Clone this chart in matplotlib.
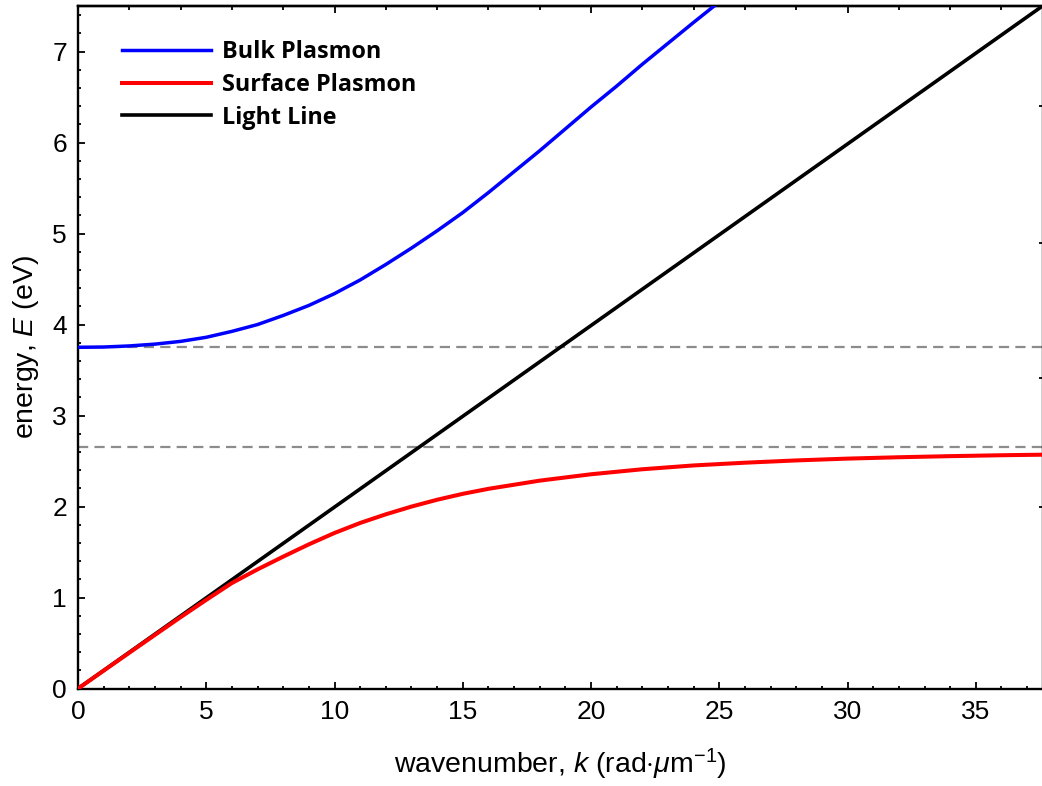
import matplotlib
matplotlib.use("Agg")
import matplotlib.pyplot as plt
from matplotlib.ticker import MultipleLocator, FixedLocator

# ---- data ----
bulk_k = [0, 1, 2, 3, 4, 5, 6, 7, 8, 9, 10, 11, 12, 13, 14, 15, 16, 17, 18, 19, 20, 21, 22, 23, 24, 24.8]
bulk_E = [3.75, 3.753, 3.765, 3.785, 3.815, 3.86, 3.925, 4.00, 4.10, 4.21, 4.34, 4.49, 4.66, 4.84,
          5.03, 5.23, 5.45, 5.68, 5.91, 6.15, 6.39, 6.62, 6.86, 7.09, 7.32, 7.50]

surf_k = [0, 1, 2, 3, 4, 5, 6, 7, 8, 9, 10, 11, 12, 13, 14, 15, 16, 17, 18, 19, 20, 22, 24, 26, 28,
          30, 32, 34, 36, 37.6]
surf_E = [0, 0.197, 0.394, 0.59, 0.785, 0.975, 1.16, 1.31, 1.45, 1.585, 1.71, 1.82, 1.915, 2.00,
          2.075, 2.14, 2.195, 2.24, 2.285, 2.32, 2.355, 2.41, 2.452, 2.482, 2.507, 2.527, 2.542, 2.554,
          2.564, 2.57]

light_k = [0, 37.6]
light_E = [0, 7.5]

plasma_levels = [3.75, 2.65]   # bulk plasma energy and surface plasmon limit

series_labels = ["Bulk Plasmon", "Surface Plasmon", "Light Line"]

right_ticks = [6.4, 4.9, 3.41, 2.0]

# ---- style ----
plt.rcParams['font.family'] = ['Liberation Sans', 'DejaVu Sans']
plt.rcParams['mathtext.fontset'] = 'custom'
plt.rcParams['mathtext.rm'] = 'Liberation Sans'
plt.rcParams['mathtext.it'] = 'Liberation Sans:italic'
plt.rcParams['mathtext.bf'] = 'Liberation Sans:bold'

fig = plt.figure(figsize=(10.42, 7.86), dpi=100)
W, H = 1042, 786
x0, x1, y0, y1 = 78, 1042.5, 688.6, 6
ax = fig.add_axes([x0 / W, 1 - y0 / H, (x1 - x0) / W, (y0 - y1) / H])

for lev in plasma_levels:
    ax.axhline(lev, color='#8c8c8c', lw=1.6, dashes=(4.6, 2.8), zorder=1)

ax.plot(bulk_k, bulk_E, color='#0000ff', lw=2.5, label=series_labels[0], zorder=3)
ax.plot(surf_k, surf_E, color='#ff0000', lw=2.9, label=series_labels[1], zorder=3)
ax.plot(light_k, light_E, color='#000000', lw=2.6, label=series_labels[2], zorder=2)

ax.set_xlim(0, 37.6)
ax.set_ylim(0, 7.5)
ax.xaxis.set_major_locator(MultipleLocator(5))
ax.xaxis.set_minor_locator(MultipleLocator(1))
ax.yaxis.set_major_locator(MultipleLocator(1))
ax.yaxis.set_minor_locator(MultipleLocator(0.2))
ax.tick_params(which='both', direction='in', top=False, right=False, labelsize=19, width=1.3)
ax.tick_params(which='major', length=5, pad=8)
ax.tick_params(which='minor', length=2.5)
for sp in ax.spines.values():
    sp.set_linewidth(1.7)

# top frame ticks (every 2 units, longer at 10, 20, 30)
top = ax.secondary_xaxis('top')
top.xaxis.set_major_locator(MultipleLocator(10))
top.xaxis.set_minor_locator(MultipleLocator(2))
top.tick_params(which='both', direction='in', labeltop=False, width=1.3)
top.tick_params(which='major', length=5)
top.tick_params(which='minor', length=3)
top.spines['top'].set_linewidth(1.7)

# right frame ticks
rt = ax.secondary_yaxis('right')
rt.yaxis.set_major_locator(FixedLocator(right_ticks))
rt.yaxis.set_minor_locator(FixedLocator([]))
rt.tick_params(which='both', direction='in', labelright=False, width=1.3, length=3)

ax.set_xlabel(r'wavenumber, $k$ (rad$\cdot\mu$m$^{-1}$)', fontsize=20.5, labelpad=16.5)
ax.set_ylabel(r'energy, $E$ (eV)', fontsize=20.5, labelpad=8)

leg = ax.legend(loc='upper left', bbox_to_anchor=(0.036, 0.964), frameon=False,
                prop={'family': 'Open Sans', 'weight': 'bold', 'size': 16.8},
                handlelength=3.8, handletextpad=0.47, labelspacing=0.38, borderaxespad=0)

fig.savefig('out.png', dpi=100)
